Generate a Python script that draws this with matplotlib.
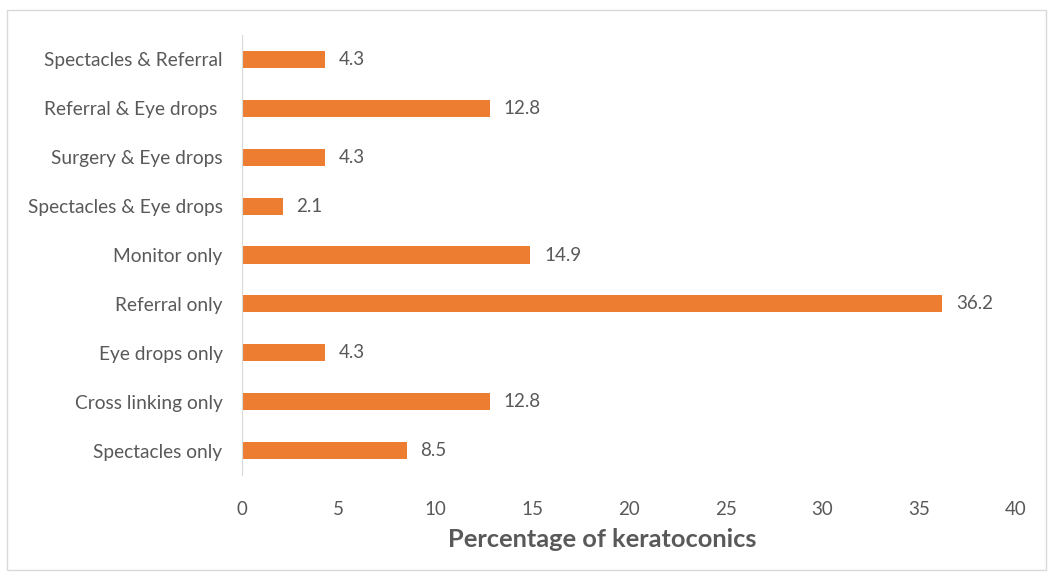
import matplotlib.pyplot as plt
import matplotlib.patches as mpatches

categories = [
    "Spectacles only",
    "Cross linking only",
    "Eye drops only",
    "Referral only",
    "Monitor only",
    "Spectacles & Eye drops",
    "Surgery & Eye drops",
    "Referral & Eye drops ",
    "Spectacles & Referral",
]
values = [8.5, 12.8, 4.3, 36.2, 14.9, 2.1, 4.3, 12.8, 4.3]

plt.rcParams["font.family"] = ["Lato", "DejaVu Sans"]
grey = "#595959"

fig = plt.figure(figsize=(10.51, 5.75), dpi=100)
ax = fig.add_axes([0.2303, 0.1739, 0.7364, 0.7652])

ax.barh(range(len(categories)), values, height=0.35, color="#ED7D31")
for i, v in enumerate(values):
    ax.annotate(f"{v}", (v, i), xytext=(10, 0), textcoords="offset points",
                va="center", ha="left", fontsize=13.5, color=grey)

ax.set_yticks(range(len(categories)))
ax.set_yticklabels(categories, fontsize=13.8, color=grey)
ax.set_xlim(0, 40)
ax.set_ylim(-0.5, 8.5)
ax.set_xticks(range(0, 41, 5))
ax.tick_params(axis="x", labelsize=13.5, labelcolor=grey, length=0, pad=19)
ax.tick_params(axis="y", length=0, pad=14)
for s in ["top", "right", "bottom"]:
    ax.spines[s].set_visible(False)
ax.spines["left"].set_color("#D9D9D9")
ax.set_xlabel("Percentage of keratoconics", fontsize=18.3, fontweight="bold",
              color=grey)
ax.xaxis.set_label_coords(0.465, -0.12)

# light border around the whole chart
fig.patches.append(mpatches.Rectangle((7 / 1051, 5 / 575), 1039 / 1051, 560 / 575,
                                      transform=fig.transFigure, fill=False,
                                      edgecolor="#D9D9D9", linewidth=1))

fig.savefig("out.png", dpi=100)
